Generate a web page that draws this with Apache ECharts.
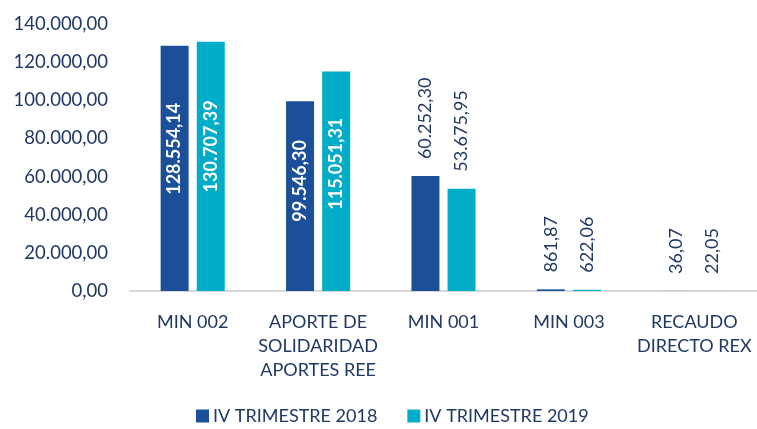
<!DOCTYPE html>
<html><head><meta charset="utf-8">
<script src="https://cdn.jsdelivr.net/npm/echarts@6/dist/echarts.min.js"></script>
<style>html,body{margin:0;padding:0;background:#fff}#c{width:757px;height:429px}</style>
</head><body><div id="c"></div>
<script>
const categories = ['MIN 002', 'APORTE DE\nSOLIDARIDAD\nAPORTES REE', 'MIN 001', 'MIN 003', 'RECAUDO\nDIRECTO REX'];
const seriesNames = ['IV TRIMESTRE 2018', 'IV TRIMESTRE 2019'];
const values2018 = [128554.14, 99546.30, 60252.30, 861.87, 36.07];
const values2019 = [130707.39, 115051.31, 53675.95, 622.06, 22.05];
const yTicks = [0, 20000, 40000, 60000, 80000, 100000, 120000, 140000];

const FONT = 'Lato';
const TXT = '#203864';
function fmt(v, d) {
  const parts = v.toFixed(d).split('.');
  const intp = parts[0].replace(/\B(?=(\d{3})+(?!\d))/g, '.');
  return intp + ',' + parts[1];
}
function labelFor(v) {
  const big = v > 90000;
  return big
    ? {show: true, position: ['50%', '42%'], align: 'center', verticalAlign: 'middle', rotate: 90, overflow: 'none', color: '#fff', fontWeight: 'bold', fontSize: 18, fontFamily: FONT, formatter: p => fmt(p.value, 2)}
    : {show: true, position: 'top', rotate: 90, align: 'left', verticalAlign: 'middle', distance: 17, color: TXT, fontSize: 18, fontFamily: FONT, formatter: p => fmt(p.value, 2)};
}
function mk(vals) { return vals.map(v => ({value: v, label: labelFor(v)})); }

const chart = echarts.init(document.getElementById('c'), null, {renderer: 'canvas'});
chart.setOption({
  animation: false,
  textStyle: {fontFamily: FONT},
  grid: {left: 130, right: -3, top: 24, bottom: 138, containLabel: false},
  legend: {
    bottom: -1, left: 191, itemWidth: 13, itemHeight: 13, itemGap: 30,
    icon: 'rect',
    textStyle: {color: TXT, fontSize: 18, fontFamily: FONT, padding: [0, 0, 0, -1]},
    data: seriesNames
  },
  xAxis: {
    type: 'category', data: categories,
    axisLine: {lineStyle: {color: '#d9d9d9', width: 2}},
    axisTick: {show: false},
    axisLabel: {color: TXT, fontSize: 18, fontFamily: FONT, lineHeight: 24, margin: 19, interval: 0}
  },
  yAxis: {
    type: 'value', min: 0, max: 140000, interval: 20000,
    axisLine: {show: false}, axisTick: {show: false}, splitLine: {show: false},
    axisLabel: {color: TXT, fontSize: 18.5, fontFamily: FONT, margin: 22,
      formatter: v => yTicks.includes(v) ? fmt(v, 2) : ''}
  },
  series: [
    {name: seriesNames[0], type: 'bar', data: mk(values2018), barWidth: 28, barGap: '29%', itemStyle: {color: '#1B4F9A'}},
    {name: seriesNames[1], type: 'bar', data: mk(values2019), barWidth: 28, itemStyle: {color: '#00ACC8'}}
  ]
});
</script></body></html>
